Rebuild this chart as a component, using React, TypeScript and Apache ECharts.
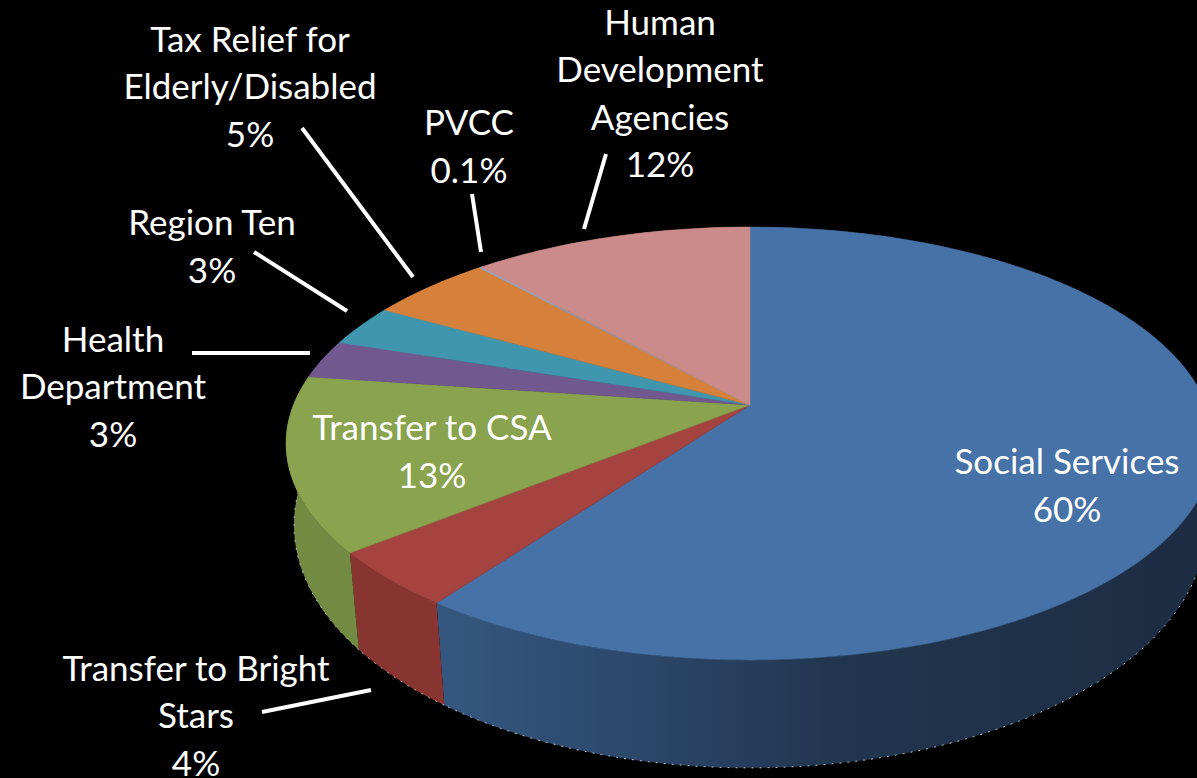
import React, { useEffect, useRef } from "react";
import * as echarts from "echarts";

// Slices run clockwise from 12 o'clock.
const categories = [
  "Social Services",
  "Transfer to Bright\nStars",
  "Transfer to CSA",
  "Health\nDepartment",
  "Region Ten",
  "Tax Relief for\nElderly/Disabled",
  "PVCC",
  "Human\nDevelopment\nAgencies",
];
const values = [60, 4.2, 13, 2.9, 3.1, 5.1, 0.1, 11.6];
const percentLabels = ["60%", "4%", "13%", "3%", "3%", "5%", "0.1%", "12%"];
const topColors = ["#4672A7", "#A54341", "#89A34E", "#71598F", "#4096AE", "#D6813B", "#8FA9CC", "#CC8B8B"];
const sideColors = ["#2A4363", "#883532", "#728A41", "#5C4875", "#33788C", "#AD6930", "#728AA8", "#A67070"];
const labelCenters = [
  [1067, 484],
  [196, 714],
  [432, 450],
  [113, 385],
  [212, 245],
  [250, 85],
  [469, 145],
  [660, 92],
];
const leaders = [
  [302, 128, 413, 277],
  [472, 194, 481, 252],
  [606, 154, 584, 229],
  [254, 252, 347, 311],
  [192, 353, 310, 353],
  [262, 712, 371, 690],
];
const lineStep = 47.5;

// Perspective projection of a flat disc: top face and bottom face.
const topDisc = { cx: 750, cy: 405, a: 456.6, b: 209.6, k: 0.1778 };
const bottomDisc = { cx: 750, cy: 484.1, a: 449.5, b: 236.1, k: 0.168 };

const total = values.reduce((s, v) => s + v, 0);
let running = 0;
const rows = values.map((v, i) => {
  const row = [running, running + v, i];
  running += v;
  return row;
});

type Disc = typeof topDisc;
function project(d: Disc, share: number): number[] {
  const t = (share / total) * Math.PI * 2;
  const u = Math.sin(t);
  const v = Math.cos(t);
  const w = 1 + d.k * v;
  return [d.cx + (d.a * u) / w, d.cy - (d.b * v) / w];
}
function arc(d: Disc, from: number, to: number): number[][] {
  const n = Math.max(2, Math.ceil((to - from) * 3));
  const pts: number[][] = [];
  for (let i = 0; i <= n; i++) pts.push(project(d, from + ((to - from) * i) / n));
  return pts;
}

const blueSide = new echarts.graphic.LinearGradient(0, 0, 1, 0, [
  { offset: 0, color: "#35577F" },
  { offset: 0.2, color: "#2E4B70" },
  { offset: 0.5, color: "#22364F" },
  { offset: 1, color: "#1C2C42" },
]);

function renderSide(_: any, api: any) {
  const from = api.value(0);
  const to = api.value(1);
  const i = api.value(2);
  const upper = arc(topDisc, from, to);
  const lower = arc(bottomDisc, from, to);
  return {
    type: "group",
    children: [
      {
        type: "polygon",
        shape: { points: [...upper, ...lower.slice().reverse()] },
        style: { fill: i === 0 ? blueSide : sideColors[i], stroke: "none" },
      },
      {
        type: "polyline",
        shape: { points: lower },
        style: { stroke: "#B4BDC4", fill: "none", lineWidth: 1, lineDash: [2, 6] },
      },
    ],
  };
}

function renderTop(_: any, api: any) {
  const from = api.value(0);
  const to = api.value(1);
  const i = api.value(2);
  return {
    type: "polygon",
    shape: { points: [[topDisc.cx, topDisc.cy], ...arc(topDisc, from, to)] },
    style: { fill: topColors[i], stroke: topColors[i], lineWidth: 0.5 },
  };
}

function labelLines() {
  return categories.flatMap((name, i) => {
    const lines = `${name}\n${percentLabels[i]}`.split("\n");
    return lines.map((line, j) => ({
      type: "text",
      z: 6,
      x: labelCenters[i][0],
      y: labelCenters[i][1] + (j - (lines.length - 1) / 2) * lineStep,
      style: {
        text: line,
        fill: "#FFFFFF",
        font: "35px Lato",
        lineHeight: 30,
        align: "center",
        verticalAlign: "middle",
      },
    }));
  });
}

export default function App() {
  const ref = useRef<HTMLDivElement>(null);
  useEffect(() => {
    document.body.style.margin = "0";
    document.body.style.background = "#000";
    const chart = echarts.init(ref.current!, undefined, { renderer: "svg" });
    chart.setOption({
      animation: false,
      backgroundColor: "#000000",
      series: [
        { type: "custom", coordinateSystem: "none", silent: true, z: 1, data: rows, renderItem: renderSide },
        { type: "custom", coordinateSystem: "none", silent: true, z: 2, data: rows, renderItem: renderTop },
      ],
      graphic: [
        ...leaders.map(([x1, y1, x2, y2]) => ({
          type: "line",
          z: 5,
          shape: { x1, y1, x2, y2 },
          style: { stroke: "#FFFFFF", lineWidth: 4 },
        })),
        ...labelLines(),
      ],
    });
    return () => chart.dispose();
  }, []);
  return <div ref={ref} style={{ width: 1197, height: 778, overflow: "hidden" }} />;
}
